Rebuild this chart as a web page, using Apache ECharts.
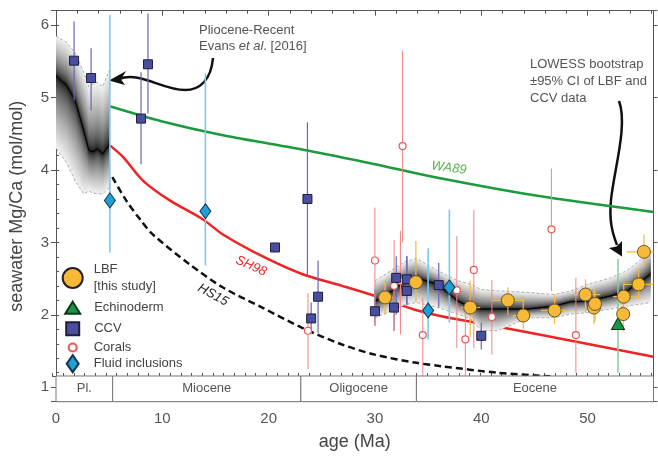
<!DOCTYPE html>
<html>
<head>
<meta charset="utf-8">
<script src="https://cdn.jsdelivr.net/npm/echarts@6/dist/echarts.min.js"></script>
<style>
html, body { margin: 0; padding: 0; background: #fff; }
#chart { width: 658px; height: 459px; }
</style>
</head>
<body>
<div id="chart"></div>
<script>
const FONT = 'Liberation Sans, Arial, Helvetica, sans-serif';
const XMAX = 56.2, YMIN = 0.8, YMAX = 6.2, BAND_TOP = 1.155;

// geological epochs (Ma)
const epochNames = ['Pl.', 'Miocene', 'Oligocene', 'Eocene'];
const epochStart = [0, 5.33, 23.03, 33.9];
const epochEnd = [5.33, 23.03, 33.9, 56.2];

// model curves
const wa89Age = [5.07, 10, 15.7, 23.65, 30, 35.3, 45, 56.2];
const wa89 = [4.88, 4.67, 4.48, 4.27, 4.08, 3.91, 3.65, 3.42];
const sh98Age = [5.07, 6.3, 8.2, 10.7, 13.8, 15.7, 19.4, 23.2, 26.9, 30, 33.75, 36.25, 40, 44.7, 56.2];
const sh98 = [4.34, 4.18, 3.85, 3.58, 3.32, 3.11, 2.81, 2.56, 2.40, 2.26, 2.07, 1.98, 1.88, 1.75, 1.42];
const hs15Age = [5.3, 6.6, 8.0, 9.1, 12.55, 15.67, 19.4, 23.15, 26.9, 30, 33.75, 36.25, 41.55, 46.5];
const hs15 = [3.90, 3.58, 3.30, 3.11, 2.70, 2.38, 2.10, 1.82, 1.59, 1.45, 1.34, 1.29, 1.20, 1.15];

// LOWESS bands (Evans et al. 2016, and LBF + CCV)
const evansAge = [0, 1.0, 1.8, 2.6, 3.1, 3.5, 3.9, 4.4, 5.07];
const evansMid = [5.30, 5.17, 4.96, 4.55, 4.27, 4.25, 4.29, 4.22, 4.36];
const evansHi = [5.85, 5.76, 5.62, 5.35, 5.15, 5.19, 5.21, 5.15, 5.40];
const evansLo = [4.30, 4.10, 3.85, 3.67, 3.71, 3.68, 3.67, 3.67, 3.76];
const lowAge = [30.0, 31.0, 31.9, 32.8, 33.9, 35.9, 37.8, 39.05, 40.0, 41.55, 44.4, 46.85, 48.4, 50.0, 52.15, 53.7, 55.1, 55.9];
const lowMid = [2.19, 2.26, 2.36, 2.47, 2.51, 2.42, 2.19, 2.10, 2.08, 2.08, 2.08, 2.12, 2.18, 2.19, 2.26, 2.33, 2.47, 2.56];
const lowHi = [2.47, 2.56, 2.65, 2.73, 2.78, 2.61, 2.47, 2.42, 2.35, 2.33, 2.31, 2.28, 2.33, 2.42, 2.51, 2.61, 2.77, 2.93];
const lowLo = [1.96, 2.02, 2.08, 2.14, 2.17, 2.10, 2.01, 1.94, 1.78, 1.78, 1.96, 1.96, 2.01, 2.03, 2.08, 2.12, 2.15, 2.17];

// LBF [this study]
const lbfAge = [30.95, 33.85, 38.96, 42.5, 43.95, 46.9, 49.8, 50.6, 50.7, 53.35, 53.4, 54.8, 55.3];
const lbfMgCa = [2.24, 2.45, 2.10, 2.20, 1.99, 2.06, 2.28, 2.10, 2.15, 2.01, 2.25, 2.42, 2.87];
const lbfLow = [2.00, 2.17, 1.70, 2.00, 1.80, 1.87, 2.03, 1.87, 1.90, 1.77, 2.03, 2.21, 2.65];
const lbfHigh = [2.47, 3.02, 2.47, 2.38, 2.21, 2.28, 2.49, 2.33, 2.36, 2.24, 2.44, 2.63, 3.11];
const lbfAgeLow = [30.4, 33.3, 38.1, 41.0, 42.95, 45.6, 48.6, 50.1, 50.1, 52.9, 52.4, 53.4, 53.7];
const lbfAgeHigh = [31.7, 34.5, 39.9, 44.0, 44.75, 48.1, 51.2, 51.3, 51.4, 53.8, 54.6, 56.2, 56.2];

// CCV
const ccvAge = [1.7, 3.3, 8.0, 8.65, 20.6, 23.65, 24.0, 24.65, 30.0, 31.8, 32.0, 33.0, 33.0, 36.0, 40.0];
const ccvMgCa = [5.51, 5.27, 4.71, 5.46, 2.93, 3.60, 1.95, 2.25, 2.05, 2.10, 2.51, 2.49, 2.33, 2.41, 1.71];
const ccvLow = [4.96, 4.82, 4.08, 4.78, null, 2.54, 1.80, 1.75, 1.85, 1.78, 2.00, 2.14, 2.14, 2.10, 1.52];
const ccvHigh = [6.05, 5.68, 5.35, 6.16, null, 4.66, 2.17, 2.75, 2.35, 2.55, 2.81, 2.81, 2.81, 2.72, 1.89];

// Corals
const coralAge = [23.7, 30.0, 31.8, 32.4, 32.6, 34.5, 37.7, 38.5, 39.3, 41.0, 46.6, 48.9];
const coralMgCa = [1.78, 2.75, 2.40, 2.47, 4.33, 1.72, 2.34, 1.66, 2.62, 1.97, 3.18, 1.72];
const coralLow = [1.25, 1.85, 1.78, 1.73, 3.00, 1.16, 1.54, 1.16, 1.54, 1.45, 2.33, 1.20];
const coralHigh = [2.30, 3.48, 3.03, 3.16, 5.65, 2.24, 3.09, 2.10, 3.45, 2.48, 4.02, 2.51];

// Fluid inclusions
const fluidAge = [5.07, 14.05, 35.0, 37.0];
const fluidMgCa = [3.58, 3.43, 2.06, 2.38];
const fluidLow = [2.86, 2.68, 1.66, 1.89];
const fluidHigh = [6.14, 5.33, 2.92, 3.45];

// Echinoderm
const echAge = [52.86];
const echMgCa = [1.88];
const echLow = [1.20];
const echHigh = [2.77];

const zip = (a, b) => a.map((v, i) => [v, b[i]]);

function vErrData(ages, lo, hi) {
  return ages.map((a, i) => [a, lo[i], hi[i]]).filter(d => d[1] != null);
}

function errSeries(name, data, color, width, horizontal) {
  return {
    name: name,
    type: 'custom',
    z: 4,
    silent: true,
    clip: true,
    data: data,
    renderItem(params, api) {
      let p0, p1;
      if (horizontal) {
        p0 = api.coord([api.value(0), api.value(2)]);
        p1 = api.coord([api.value(1), api.value(2)]);
      } else {
        p0 = api.coord([api.value(0), api.value(1)]);
        p1 = api.coord([api.value(0), api.value(2)]);
      }
      return {
        type: 'line',
        shape: { x1: p0[0], y1: p0[1], x2: p1[0], y2: p1[1] },
        style: { stroke: color, lineWidth: width }
      };
    }
  };
}

// grey bootstrap band: nested polygons, light at the CI limits, black at the LOWESS line
function bandSeries(ages, lo, mid, hi) {
  const N = 36;
  const levels = [];
  for (let k = N; k >= 1; k--) levels.push([k / N]);
  return {
    type: 'custom',
    z: 3,
    silent: true,
    clip: true,
    data: levels,
    renderItem(params, api) {
      const t = api.value(0);
      const top = ages.map((a, i) => api.coord([a, mid[i] + (hi[i] - mid[i]) * t]));
      const bot = ages.map((a, i) => api.coord([a, mid[i] + (lo[i] - mid[i]) * t])).reverse();
      const g = Math.round(12 + 230 * Math.pow(Math.max(t - 0.5 / N, 0), 0.6));
      const c = 'rgb(' + g + ',' + g + ',' + g + ')';
      return { type: 'polygon', shape: { points: top.concat(bot) }, style: { fill: c } };
    }
  };
}

function lineSeries(data, color, width, extra) {
  return Object.assign({
    type: 'line',
    data: data,
    showSymbol: false,
    silent: true,
    z: 2,
    lineStyle: { color: color, width: width }
  }, extra || {});
}

const outline = { color: '#9a9a9a', width: 0.8, type: [3, 2] };

const chart = echarts.init(document.getElementById('chart'));

const tickColor = '#555';
const hiddenLabel = { show: false };
const noSplit = { show: false };

const option = {
  animation: false,
  textStyle: { fontFamily: FONT },
  grid: [
    { left: 52.5, right: 4.5, top: 10.7, bottom: 57.3 },
    { left: 52.5, right: 4.5, top: 10.7, bottom: 83 }
  ],
  xAxis: [
    {
      gridIndex: 0, type: 'value', position: 'bottom', min: 0, max: XMAX, interval: 10,
      axisLine: { show: true, onZero: false, lineStyle: { color: tickColor } },
      axisTick: { inside: true, length: 5, lineStyle: { color: tickColor } },
      axisLabel: { margin: 10, fontSize: 15, color: '#555', formatter: v => (v % 10 === 0 ? v : '') },
      splitLine: noSplit,
      name: 'age (Ma)', nameLocation: 'middle', nameGap: 31,
      nameTextStyle: { fontSize: 18, color: '#444' }
    },
    {
      gridIndex: 0, type: 'value', position: 'bottom', min: 0, max: XMAX, interval: 1,
      axisLine: { show: false, onZero: false },
      axisTick: { inside: true, length: 3, lineStyle: { color: tickColor } },
      axisLabel: hiddenLabel, splitLine: noSplit
    },
    {
      gridIndex: 0, type: 'value', position: 'top', min: 0, max: XMAX, interval: 10,
      axisLine: { show: true, onZero: false, lineStyle: { color: tickColor } },
      axisTick: { inside: true, length: 5, lineStyle: { color: tickColor } },
      axisLabel: hiddenLabel, splitLine: noSplit
    },
    {
      gridIndex: 0, type: 'value', position: 'top', min: 0, max: XMAX, interval: 2,
      axisLine: { show: false, onZero: false },
      axisTick: { inside: true, length: 3, lineStyle: { color: tickColor } },
      axisLabel: hiddenLabel, splitLine: noSplit
    },
    {
      gridIndex: 1, type: 'value', position: 'bottom', min: 0, max: XMAX, interval: 1,
      axisLine: { show: true, onZero: false, lineStyle: { color: tickColor } },
      axisTick: { inside: true, length: 3, lineStyle: { color: tickColor } },
      axisLabel: hiddenLabel, splitLine: noSplit
    }
  ],
  yAxis: [
    {
      gridIndex: 0, type: 'value', position: 'left', min: YMIN, max: YMAX, splitNumber: 5,
      axisLine: { show: true, onZero: false, lineStyle: { color: tickColor } },
      axisTick: { inside: false, length: 5, lineStyle: { color: tickColor } },
      axisLabel: { margin: 7, fontSize: 15, color: '#555', formatter: v => (Math.abs(v - Math.round(v)) < 1e-6 ? Math.round(v) : '') },
      splitLine: noSplit,
      name: 'seawater Mg/Ca (mol/mol)', nameLocation: 'middle', nameGap: 30,
      nameTextStyle: { fontSize: 18, color: '#444' }
    },
    {
      gridIndex: 0, type: 'value', position: 'left', min: YMIN, max: YMAX, interval: 0.2,
      axisLine: { show: false, onZero: false },
      axisTick: { inside: true, length: 3, lineStyle: { color: tickColor } },
      axisLabel: hiddenLabel, splitLine: noSplit
    },
    {
      gridIndex: 0, type: 'value', position: 'right', min: YMIN, max: YMAX, splitNumber: 5,
      axisLine: { show: true, onZero: false, lineStyle: { color: tickColor } },
      axisTick: { inside: false, length: 4, lineStyle: { color: tickColor } },
      axisLabel: hiddenLabel, splitLine: noSplit
    },
    { gridIndex: 1, type: 'value', show: false, min: 0, max: 1 }
  ],
  legend: [
    {
      data: ['LBF'], left: 61.7, top: 263, itemWidth: 20, itemHeight: 20, padding: 0, selectedMode: false,
      itemStyle: { borderWidth: 2, borderColor: '#222' },
      formatter: () => '{t|LBF}\n{t|[this study]}',
      textStyle: { rich: { t: { fontSize: 13, color: '#444', lineHeight: 17, padding: [0, 0, 0, 6] } } }
    },
    {
      data: ['Echinoderm'], left: 64.2, top: 300.7, itemWidth: 15, itemHeight: 12, padding: 0, selectedMode: false,
      formatter: '{t|{name}}',
      textStyle: { rich: { t: { fontSize: 13, color: '#444', padding: [0, 0, 0, 9] } } }
    },
    {
      data: ['CCV'], left: 65.2, top: 321.2, itemWidth: 13, itemHeight: 13, padding: 0, selectedMode: false,
      formatter: '{t|{name}}',
      textStyle: { rich: { t: { fontSize: 13, color: '#444', padding: [0, 0, 0, 10] } } }
    },
    {
      data: ['Corals'], left: 67.7, top: 341, itemWidth: 8, itemHeight: 8, padding: 0, selectedMode: false,
      formatter: '{t|{name}}',
      textStyle: { rich: { t: { fontSize: 13, color: '#444', padding: [0, 0, 0, 12] } } }
    },
    {
      data: ['Fluid inclusions'], left: 65.7, top: 354.2, itemWidth: 12, itemHeight: 17, padding: 0, selectedMode: false,
      formatter: '{t|{name}}',
      textStyle: { rich: { t: { fontSize: 13, color: '#444', padding: [0, 0, 0, 10] } } }
    }
  ],
  series: [
    lineSeries(zip(wa89Age, wa89), '#1b9a3e', 2.5, { smooth: 0.3 }),
    lineSeries(zip(sh98Age, sh98), '#ee2424', 2.5, { smooth: 0.3 }),
    lineSeries(zip(hs15Age, hs15), '#111', 2.5, { smooth: 0.3, lineStyle: { color: '#111', width: 2.5, type: [7, 4] } }),

    bandSeries(evansAge, evansLo, evansMid, evansHi),
    bandSeries(lowAge, lowLo, lowMid, lowHi),
    lineSeries(zip(evansAge, evansHi), '#999', 0.8, { z: 3, lineStyle: outline }),
    lineSeries(zip(evansAge, evansLo), '#999', 0.8, { z: 3, lineStyle: outline }),
    lineSeries(zip(lowAge, lowHi), '#999', 0.8, { z: 3, lineStyle: outline }),
    lineSeries(zip(lowAge, lowLo), '#999', 0.8, { z: 3, lineStyle: outline }),
    lineSeries(zip(evansAge, evansMid), '#000', 1, { z: 3 }),
    lineSeries(zip(lowAge, lowMid), '#000', 1, { z: 3 }),

    errSeries('ccvErr', vErrData(ccvAge, ccvLow, ccvHigh), '#6669b2', 1.2),
    errSeries('coralErr', vErrData(coralAge, coralLow, coralHigh), '#f18585', 1),
    errSeries('fluidErr', vErrData(fluidAge, fluidLow, fluidHigh), '#7cc9ec', 1.6),
    errSeries('echErr', vErrData(echAge, echLow, echHigh), '#86cf97', 1.5),
    errSeries('lbfErrY', vErrData(lbfAge, lbfLow, lbfHigh), '#f6b840', 1.2),
    errSeries('lbfErrX', lbfAgeLow.map((a, i) => [a, lbfAgeHigh[i], lbfMgCa[i]]), '#f6b840', 1.2, true),

    {
      name: 'Corals', type: 'scatter', z: 5, data: zip(coralAge, coralMgCa),
      symbol: 'circle', symbolSize: 7,
      itemStyle: { color: '#fff', borderColor: '#ea5757', borderWidth: 1.2, opacity: 1 }
    },
    {
      name: 'CCV', type: 'scatter', z: 5, data: zip(ccvAge, ccvMgCa),
      symbol: 'rect', symbolSize: 9,
      itemStyle: { color: '#4a4e9e', borderColor: '#1e1e3a', borderWidth: 1, opacity: 1 }
    },
    {
      name: 'Fluid inclusions', type: 'scatter', z: 5, data: zip(fluidAge, fluidMgCa),
      symbol: 'diamond', symbolSize: [11, 15],
      itemStyle: { color: '#1e9fd8', borderColor: '#12364c', borderWidth: 1, opacity: 1 }
    },
    {
      name: 'Echinoderm', type: 'scatter', z: 5, data: zip(echAge, echMgCa),
      symbol: 'triangle', symbolSize: [13, 12],
      itemStyle: { color: '#1a9446', borderColor: '#0b3a1b', borderWidth: 1, opacity: 1 }
    },
    {
      name: 'LBF', type: 'scatter', z: 5, data: zip(lbfAge, lbfMgCa),
      symbol: 'circle', symbolSize: 13,
      itemStyle: { color: '#f9b938', borderColor: '#6a5526', borderWidth: 1, opacity: 1 }
    },

    {
      type: 'custom', z: 6, silent: true, clip: false,
      data: epochNames.map((n, i) => [epochStart[i], epochEnd[i], n]),
      renderItem(params, api) {
        const s = api.value(0), e = api.value(1);
        const p0 = api.coord([s, BAND_TOP]);
        const p1 = api.coord([e, YMIN]);
        return {
          type: 'group',
          children: [
            {
              type: 'rect',
              shape: { x: p0[0], y: p0[1], width: p1[0] - p0[0], height: p1[1] - p0[1] },
              style: { fill: '#fff', stroke: '#777', lineWidth: 1 }
            },
            {
              type: 'text',
              style: {
                x: (p0[0] + p1[0]) / 2, y: (p0[1] + p1[1]) / 2,
                text: epochNames[params.dataIndex], fill: '#555',
                font: '13px ' + FONT, align: 'center', verticalAlign: 'middle'
              }
            }
          ]
        };
      }
    }
  ],
  graphic: [
    { type: 'text', x: 199, y: 30, style: { text: 'Pliocene-Recent', fill: '#555', font: '13px ' + FONT, verticalAlign: 'middle' } },
    {
      type: 'text', x: 199, y: 46,
      style: {
        text: '{n|Evans }{i|et al}{n|. [2016]}', fill: '#555', verticalAlign: 'middle',
        rich: { n: { font: '13px ' + FONT, fill: '#555' }, i: { font: 'italic 13px ' + FONT, fill: '#555' } }
      }
    },
    { type: 'text', x: 530, y: 64, style: { text: 'LOWESS bootstrap', fill: '#555', font: '13px ' + FONT, verticalAlign: 'middle' } },
    { type: 'text', x: 530, y: 81.5, style: { text: '±95% CI of LBF and', fill: '#555', font: '13px ' + FONT, verticalAlign: 'middle' } },
    { type: 'text', x: 530, y: 98.5, style: { text: 'CCV data', fill: '#555', font: '13px ' + FONT, verticalAlign: 'middle' } },
    { type: 'text', x: 449, y: 168, rotation: -0.13, style: { text: 'WA89', fill: '#57b24a', font: 'italic 13px ' + FONT, align: 'center', verticalAlign: 'middle' } },
    { type: 'text', x: 251, y: 266, rotation: -0.42, style: { text: 'SH98', fill: '#ee2424', font: 'italic 13px ' + FONT, align: 'center', verticalAlign: 'middle' } },
    { type: 'text', x: 213, y: 295, rotation: -0.5, style: { text: 'HS15', fill: '#222', font: 'italic 13px ' + FONT, align: 'center', verticalAlign: 'middle' } },

    { type: 'bezierCurve', shape: { x1: 213, y1: 58, cpx1: 211, cpy1: 80, cpx2: 200, cpy2: 90, x2: 185, y2: 90 }, style: { stroke: '#111', lineWidth: 2.5, fill: null } },
    { type: 'bezierCurve', shape: { x1: 185, y1: 90, cpx1: 162, cpy1: 90, cpx2: 140, cpy2: 71, x2: 119, y2: 79 }, style: { stroke: '#111', lineWidth: 2.5, fill: null } },
    { type: 'polygon', shape: { points: [[109, 80.5], [126, 71], [121, 79.5], [125, 85]] }, style: { fill: '#111' } },

    { type: 'bezierCurve', shape: { x1: 619, y1: 101, cpx1: 628, cpy1: 125, cpx2: 614, cpy2: 170, x2: 611, y2: 200 }, style: { stroke: '#111', lineWidth: 2.5, fill: null } },
    { type: 'bezierCurve', shape: { x1: 611, y1: 200, cpx1: 609, cpy1: 220, cpx2: 612, cpy2: 232, x2: 617, y2: 245 }, style: { stroke: '#111', lineWidth: 2.5, fill: null } },
    { type: 'polygon', shape: { points: [[622, 256.5], [609, 248], [616.5, 246.5], [622, 241]] }, style: { fill: '#111' } }
  ]
};

chart.setOption(option);
</script>
</body>
</html>
